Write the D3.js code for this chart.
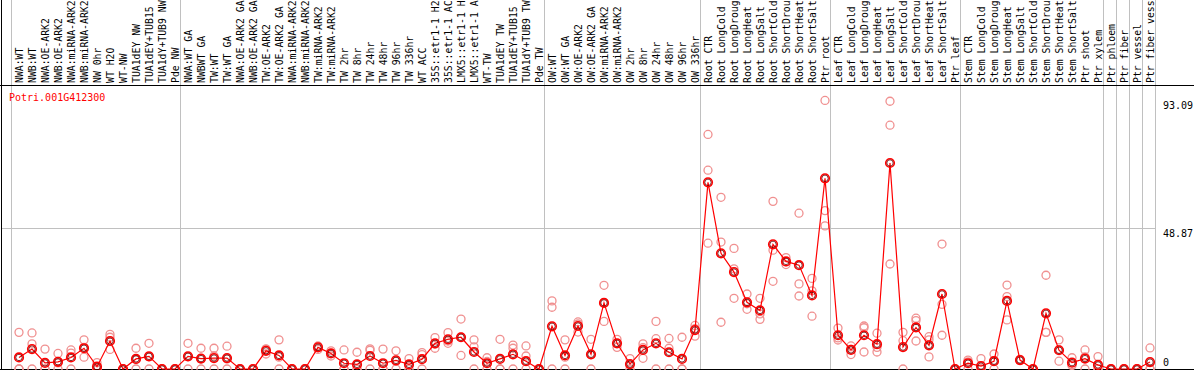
<!DOCTYPE html>
<html>
<head>
<meta charset="utf-8">
<script src="https://cdn.jsdelivr.net/npm/d3@7"></script>
<style>
  body { margin: 0; background: #fff; }
  svg { display: block; font-family: "DejaVu Sans Mono", monospace; }
</style>
</head>
<body>
<script>
'use strict';

// sample names (one column each)
const samples = [
  "NWA:WT", "NWB:WT", "NWA:OE-ARK2", "NWB:OE-ARK2", "NWA:miRNA-ARK2", "NWB:miRNA-ARK2",
  "NW 0hr", "WT H2O", "WT-NW", "TUA1dEY NW", "TUA1dEY+TUB15 NW", "TUA1dY+TUB9 NW", "Pde NW",
  "NWA:WT GA", "NWBWT GA", "TW:WT", "TW:WT GA", "NWA:OE-ARK2 GA", "NWB:OE-ARK2 GA",
  "TW:OE-ARK2", "TW:OE-ARK2 GA", "NWA:miRNA-ARK2 GA", "NWB:miRNA-ARK2 GA", "TW:miRNA-ARK2",
  "TW:miRNA-ARK2 GA", "TW 2hr", "TW 8hr", "TW 24hr", "TW 48hr", "TW 96hr", "TW 336hr",
  "WT ACC", "35S::etr1-1 H2O", "35S::etr1-1 ACC", "LMX5::etr1-1 H2O", "LMX5::etr1-1 ACC",
  "WT-TW", "TUA1dEY TW", "TUA1dEY+TUB15 TW", "TUA1dY+TUB9 TW", "Pde TW",
  "OW:WT", "OW:WT GA", "OW:OE-ARK2", "OW:OE-ARK2 GA", "OW:miRNA-ARK2", "OW:miRNA-ARK2 GA",
  "OW 2hr", "OW 8hr", "OW 24hr", "OW 48hr", "OW 96hr", "OW 336hr",
  "Root CTR", "Root LongCold", "Root LongDrought", "Root LongHeat", "Root LongSalt",
  "Root ShortCold", "Root ShortDrought", "Root ShortHeat", "Root ShortSalt", "Ptr root",
  "Leaf CTR", "Leaf LongCold", "Leaf LongDrought", "Leaf LongHeat", "Leaf LongSalt",
  "Leaf ShortCold", "Leaf ShortDrought", "Leaf ShortHeat", "Leaf ShortSalt", "Ptr leaf",
  "Stem CTR", "Stem LongCold", "Stem LongDrought", "Stem LongHeat", "Stem LongSalt",
  "Stem ShortCold", "Stem ShortDrought", "Stem ShortHeat", "Stem ShortSalt", "Ptr shoot", "Ptr xylem",
  "Ptr phloem", "Ptr fiber", "Ptr vessel", "Ptr fiber vessel"
];

// how many columns in each experiment group (gray separators between them)
const groupSizes = [13, 28, 12, 10, 10, 11, 1, 1, 1, 1];

// mean expression per sample
const means = [
  4.0, 6.9, 2.1, 2.5, 4.0, 7.2, 0.8, 9.7, 0, 3.5, 4.4, 0, 0,
  4.4, 3.6, 3.8, 3.8, 0, 0, 6.3, 4.7, 0, 0, 7.5, 5.4, 2.0, 1.6, 4.5, 2.0, 3.0, 1.6,
  3.4, 8.9, 10.3, 11.0, 5.9, 2.0, 3.5, 5.1, 2.7, 0,
  14.8, 4.7, 14.9, 5.1, 22.9, 8.9, 1.7, 6.6, 8.9, 5.8, 3.5, 13.5,
  64.7, 40.1, 33.6, 23.1, 20.3, 43.2, 37.3, 36.0, 25.5, 66.1,
  11.7, 6.6, 11.7, 8.6, 71.4, 7.6, 14.4, 8.2, 26.0, 0,
  2.0, 1.0, 2.7, 23.6, 3.1, 0, 19.3, 6.5, 2.2, 3.6, 1.4,
  0, 0, 0, 2.4
];

// individual replicates
const rep1 = [
  12.7, 12.5, 6.9, 5.4, 6.6, 10.1, 2.2, 12.0, 0, 7.2, 8.9, 0, 0,
  8.9, 7.2, 7.2, 7.9, 0, 0, 7.0, 10.1, 0, 0, 8.0, 6.3, 6.6, 5.8, 7.0, 6.9, 6.3, 3.6,
  5.7, 10.9, 12.6, 17.3, 10.1, 3.9, 10.3, 8.3, 8.0, 0,
  23.6, 10.1, 16.3, 10.3, 29.0, 10.3, 3.6, 8.7, 16.5, 10.6, 11.0, 15.1,
  81.3, 59.5, 41.8, 26.0, 24.5, 58.1, 38.6, 54.0, 31.4, 93.09,
  14.2, 8.0, 14.9, 12.4, 92.8, 12.7, 17.6, 11.2, 43.3, 0,
  3.1, 3.6, 5.2, 29.1, 3.3, 0, 32.5, 10.1, 3.9, 6.6, 4.3,
  0, 0, 0, 7.3
];
const rep2 = [
  0, 8.7, 0, 2.1, 5.5, 7.5, 0, 11.0, 0, 3.3, 4.3, 0, 0,
  4.3, 3.6, 4.5, 3.5, 0, 0, 6.8, 4.1, 0, 0, 7.7, 5.4, 0, 0, 6.5, 0, 2.7, 1.2,
  5.0, 8.6, 9.7, 11.0, 7.7, 2.6, 0, 7.2, 4.5, 0,
  21.4, 4.1, 15.6, 5.0, 23.0, 8.9, 1.5, 7.4, 10.5, 7.2, 0, 14.0,
  68.9, 44.0, 34.7, 22.6, 19.1, 41.2, 37.1, 29.5, 27.1, 54.9,
  10.8, 6.8, 14.3, 7.5, 84.5, 9.8, 16.8, 10.1, 22.4, 0,
  2.5, 0, 2.9, 25.1, 3.0, 0, 12.7, 6.7, 1.5, 4.2, 0,
  0, 0, 0, 0
];
const rep3 = [
  0, 0, 0, 0, 0, 4.1, 0, 6.8, 0, 0, 0, 0, 0,
  0, 0, 0, 0, 0, 0, 5.2, 0, 0, 0, 6.8, 4.5, 0, 0, 0, 0, 0, 0,
  0, 7.2, 8.9, 4.7, 0, 0, 0, 0, 0, 0,
  0, 0, 12.8, 0, 16.5, 7.5, 0, 3.7, 0, 0, 0, 11.4,
  43.6, 16.2, 24.5, 20.7, 17.2, 30.4, 36.2, 25.3, 18.3, 49.6,
  10.05, 5.0, 5.9, 5.9, 36.4, 0, 9.7, 4.2, 11.7, 0,
  0, 0, 0, 17.0, 3.0, 0, 12.7, 2.7, 1.2, 0, 0,
  0, 0, 0, 0
];

// value labels on the right (max of data and the scale midpoint)
const yTicks = [93.09, 48.87, 0];
const yTop = 97.74;
const maxLabelChars = 14; // header only has room for this many

const W = 1194, H = 370;
const svg = d3.select('body').append('svg')
  .attr('width', W)
  .attr('height', H);

// scales
const xScale = d3.scaleBand()
  .domain(samples)
  .range([11, 1155]);
const yScale = d3.scaleLinear()
  .domain([0, yTop])
  .range([369, 87]);
const cx = d => xScale(d) + xScale.bandwidth() / 2 + 1.5;

// group separator positions
let bounds = [0];
groupSizes.forEach(n => bounds.push(bounds[bounds.length - 1] + n));
const sepX = bounds.map(b => b < samples.length ? xScale(samples[b]) : xScale.range()[1]);

svg.append('g')
  .selectAll('line')
  .data(sepX)
  .enter()
  .append('line')
    .attr('x1', d => Math.round(d) + 0.5)
    .attr('x2', d => Math.round(d) + 0.5)
    .attr('y1', 0)
    .attr('y2', 369)
    .attr('stroke', '#c0c0c0')
    .attr('stroke-width', 1);

// midpoint gridline
svg.append('line')
  .attr('x1', 1).attr('x2', 1155)
  .attr('y1', Math.round(yScale(48.87)) + 0.5)
  .attr('y2', Math.round(yScale(48.87)) + 0.5)
  .attr('stroke', '#c0c0c0');

// frame
svg.append('line')
  .attr('x1', 0).attr('x2', W).attr('y1', 85.5).attr('y2', 85.5)
  .attr('stroke', '#000');
svg.append('line')
  .attr('x1', 1.5).attr('x2', 1.5).attr('y1', 0).attr('y2', H)
  .attr('stroke', '#000');
svg.append('line')
  .attr('x1', 0).attr('x2', W).attr('y1', 369.5).attr('y2', 369.5)
  .attr('stroke', '#000');

// sample labels, rotated (cut to what fits above the plot)
svg.append('g')
  .selectAll('text')
  .data(samples)
  .enter()
  .append('text')
    .attr('transform', d => 'translate(' + (cx(d) + 4) + ', 83)rotate(-90)')
    .style('font-size', '9.8px')
    .attr('fill', '#000')
    .text(d => d.slice(0, maxLabelChars).trim());

// gene name
svg.append('text')
  .attr('x', 9)
  .attr('y', 101)
  .style('font-size', '10px')
  .attr('fill', '#f00')
  .text('Potri.001G412300');

// y labels on the right
svg.append('g')
  .selectAll('text')
  .data(yTicks)
  .enter()
  .append('text')
    .attr('x', 1163)
    .attr('y', d => Math.min(yScale(d) + 9, 366))
    .style('font-size', '10px')
    .attr('fill', '#000')
    .text(d => d);

// replicate points
const reps = [rep1, rep2, rep3];
reps.forEach(rep => {
  svg.append('g')
    .selectAll('circle')
    .data(samples)
    .enter()
    .append('circle')
      .attr('cx', d => cx(d))
      .attr('cy', (d, i) => yScale(rep[i]))
      .attr('r', 4)
      .attr('fill', 'none')
      .attr('stroke', '#f09090')
      .attr('stroke-width', 1.3);
});

// mean line
const line = d3.line()
  .x(d => cx(d))
  .y((d, i) => yScale(means[i]));

svg.append('path')
  .datum(samples)
  .attr('fill', 'none')
  .attr('stroke', '#f00')
  .attr('stroke-width', 1.2)
  .attr('d', line);

// mean markers
const meanG = svg.append('g');
meanG.selectAll('.mo')
  .data(samples)
  .enter()
  .append('circle')
    .attr('cx', d => cx(d))
    .attr('cy', (d, i) => yScale(means[i]))
    .attr('r', 4.3)
    .attr('fill', 'none')
    .attr('stroke', '#f00')
    .attr('stroke-width', 1.6);
meanG.selectAll('.mi')
  .data(samples)
  .enter()
  .append('circle')
    .attr('cx', d => cx(d))
    .attr('cy', (d, i) => yScale(means[i]))
    .attr('r', 3.2)
    .attr('fill', 'none')
    .attr('stroke', '#600')
    .attr('stroke-width', 0.8);
</script>
</body>
</html>
